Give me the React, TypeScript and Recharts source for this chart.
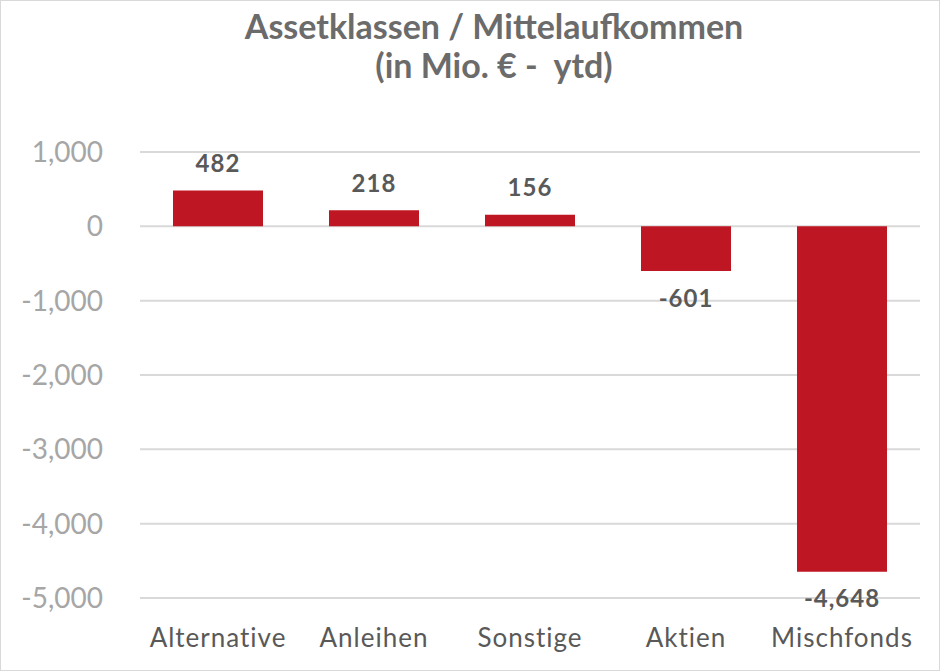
import React from "react";
import { BarChart, Bar, XAxis, YAxis, CartesianGrid, LabelList } from "recharts";

const categories = ["Alternative", "Anleihen", "Sonstige", "Aktien", "Mischfonds"];
const flows = [482, 218, 156, -601, -4648];
const yTicks = [-5000, -4000, -3000, -2000, -1000, 0, 1000];
const titleLine1 = "Assetklassen / Mittelaufkommen";
const titleLine2 = "(in Mio. € -  ytd)";

const data = categories.map((c, i) => ({ name: c, value: flows[i] }));

const fmt = (v: number) => v.toLocaleString("en-US");
const FONT = "Lato, 'Open Sans', sans-serif";

const ValueLabel = (props: any) => {
  const { x, y, width, height, value } = props;
  const cx = x + width / 2;
  const neg = value < 0;
  const bottom = y + height;
  const ty = neg ? Math.max(y, bottom) + 26 : Math.min(y, bottom) - 28;
  return (
    <text
      x={cx}
      y={ty}
      textAnchor="middle"
      dominantBaseline="central"
      fill="#595959"
      fontSize={24}
      fontWeight="bold"
      fontFamily={FONT}
      letterSpacing={1}
    >
      {fmt(value)}
    </text>
  );
};

const CatTick = (props: any) => {
  const { x, y, payload } = props;
  return (
    <text
      x={x}
      y={y + 31}
      textAnchor="middle"
      dominantBaseline="central"
      fill="#595959"
      fontSize={26}
      letterSpacing={1}
      fontFamily={FONT}
    >
      {payload.value}
    </text>
  );
};

export default function App() {
  return (
    <div
      style={{
        position: "absolute",
        left: 0,
        top: 0,
        width: 940,
        height: 671,
        boxSizing: "border-box",
        border: "1px solid #D9D9D9",
        background: "#fff",
        fontFamily: FONT,
      }}
    >
      <div
        style={{
          position: "absolute",
          left: 0,
          top: 5,
          width: 986,
          textAlign: "center",
          color: "#6B6B6B",
          fontWeight: "bold",
          fontSize: 34,
          lineHeight: "39px",
        }}
      >
        <div>{titleLine1}</div>
        <div style={{ whiteSpace: "pre" }}>{titleLine2}</div>
      </div>
      <div style={{ position: "absolute", left: -1, top: -1 }}>
        <BarChart
          width={940}
          height={671}
          data={data}
          margin={{ top: 152, right: 20, bottom: 13, left: 10 }}
          barSize={90}
        >
          <CartesianGrid vertical={false} stroke="#D9D9D9" strokeWidth={2} />
          <XAxis
            dataKey="name"
            axisLine={false}
            tickLine={false}
            height={60}
            tick={<CatTick />}
            interval={0}
          />
          <YAxis
            width={130}
            domain={[-5000, 1000]}
            ticks={yTicks}
            tickFormatter={fmt}
            axisLine={false}
            tickLine={false}
            tickMargin={31}
            tick={{ fill: "#A6A6A6", fontSize: 28, fontFamily: FONT }}
            interval={0}
          />
          <Bar dataKey="value" fill="#BE1622" isAnimationActive={false}>
            <LabelList dataKey="value" content={<ValueLabel />} />
          </Bar>
        </BarChart>
      </div>
    </div>
  );
}
